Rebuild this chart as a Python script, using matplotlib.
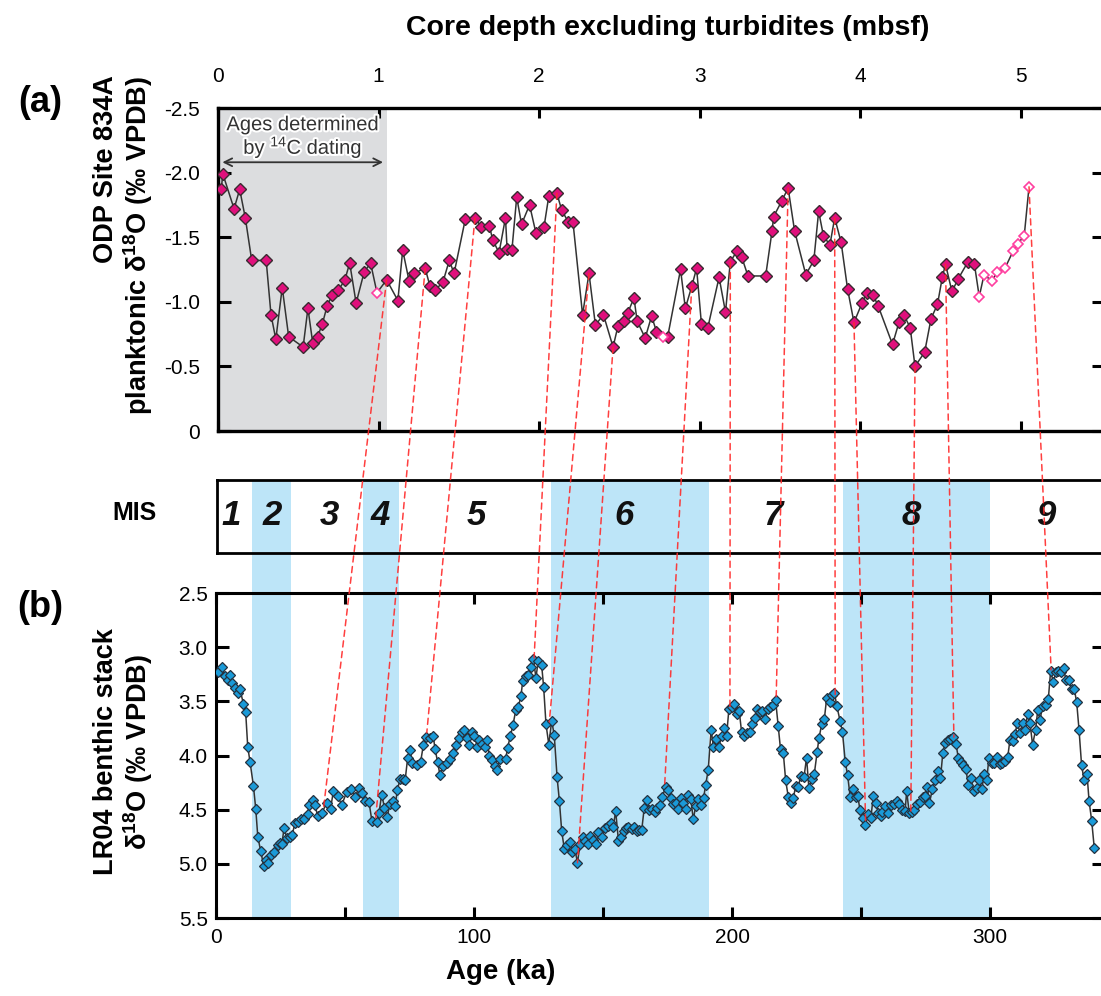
import matplotlib
matplotlib.use("Agg")
import matplotlib.pyplot as plt
from matplotlib.patches import Rectangle, ConnectionPatch
from matplotlib.transforms import blended_transform_factory
import matplotlib.patheffects as pe
import numpy as np

plt.rcParams['font.family'] = ['Liberation Sans', 'DejaVu Sans']
plt.rcParams['mathtext.fontset'] = 'custom'
plt.rcParams['mathtext.rm'] = 'Liberation Sans'
plt.rcParams['mathtext.bf'] = 'Liberation Sans:bold'
plt.rcParams['mathtext.it'] = 'Liberation Sans:italic'

NARROW = ['Liberation Sans Narrow', 'Liberation Sans', 'DejaVu Sans']

# ---------------- data: ODP 834A planktonic d18O vs depth ----------------
odp_depth = [0.02, 0.03, 0.10, 0.135, 0.17, 0.21, 0.30, 0.33, 0.36, 0.40, 0.44, 0.53, 0.56, 0.59,
             0.62, 0.65, 0.68, 0.71, 0.75, 0.79, 0.82, 0.86, 0.91, 0.95, 0.99, 1.05, 1.12, 1.15,
             1.19, 1.22, 1.29, 1.32, 1.35, 1.40, 1.44, 1.47, 1.54, 1.60, 1.64, 1.69, 1.71, 1.75,
             1.79, 1.80, 1.83, 1.86, 1.89, 1.94, 1.98, 2.03, 2.06, 2.11, 2.14, 2.18, 2.21, 2.27,
             2.31, 2.35, 2.40, 2.46, 2.49, 2.53, 2.55, 2.59, 2.61, 2.66, 2.70, 2.73, 2.77, 2.80,
             2.88, 2.91, 2.95, 2.98, 3.01, 3.05, 3.12, 3.16, 3.19, 3.23, 3.26, 3.30, 3.41, 3.45,
             3.46, 3.51, 3.55, 3.59, 3.66, 3.71, 3.74, 3.77, 3.81, 3.84, 3.88, 3.92, 3.96, 4.01,
             4.04, 4.08, 4.11, 4.20, 4.24, 4.27, 4.31, 4.34, 4.40, 4.44, 4.48, 4.51, 4.53, 4.57,
             4.61, 4.67, 4.71, 4.74, 4.77, 4.82, 4.85, 4.90, 4.95, 4.98, 5.02, 5.05]
odp_d18o = [-1.87, -1.99, -1.72, -1.87, -1.65, -1.32, -1.32, -0.90, -0.71, -1.11, -0.73, -0.65, -0.95, -0.68,
            -0.73, -0.83, -0.97, -1.05, -1.09, -1.17, -1.30, -0.99, -1.23, -1.30, -1.07, -1.17, -1.01, -1.40,
            -1.16, -1.22, -1.26, -1.12, -1.09, -1.15, -1.32, -1.22, -1.64, -1.65, -1.58, -1.59, -1.48, -1.38,
            -1.65, -1.41, -1.40, -1.81, -1.60, -1.75, -1.53, -1.58, -1.82, -1.84, -1.71, -1.62, -1.62, -0.90,
            -1.22, -0.82, -0.90, -0.65, -0.81, -0.85, -0.91, -1.03, -0.85, -0.72, -0.89, -0.77, -0.73, -0.73,
            -1.25, -0.95, -1.12, -1.26, -0.83, -0.80, -1.19, -0.92, -1.31, -1.39, -1.35, -1.20, -1.20, -1.55,
            -1.66, -1.78, -1.88, -1.55, -1.21, -1.32, -1.70, -1.51, -1.44, -1.65, -1.46, -1.10, -0.84, -0.99,
            -1.07, -1.05, -0.97, -0.67, -0.84, -0.90, -0.80, -0.50, -0.61, -0.87, -0.98, -1.19, -1.29, -1.08,
            -1.18, -1.31, -1.29, -1.04, -1.21, -1.16, -1.23, -1.26, -1.39, -1.45, -1.51, -1.89]
# samples drawn as open symbols (depths)
odp_open_depth = [0.99, 2.77, 4.74, 4.77, 4.82, 4.85, 4.90, 4.95, 4.98, 5.02, 5.05]

# ---------------- data: LR04 benthic stack ----------------
lr04_age = [0.6, 2.5, 3.5, 4.5, 5.4, 6.3, 7.4, 8.4, 9.3, 10.6, 11.5, 12.3, 13.2, 14.5, 15.4, 16.2, 17.3, 18.5,
            19.4, 20.3, 21.3, 22.6, 23.9, 24.8, 25.5, 26.4, 27.4, 28.7, 29.6, 30.6, 31.7, 33.0, 34.3, 35.5,
            36.2, 37.7, 38.4, 39.4, 41.0, 42.9, 44.4, 45.5, 47.2, 48.7, 50.6, 52.3, 53.9, 55.4, 56.5, 57.8,
            59.3, 60.4, 62.3, 63.2, 64.2, 65.3, 66.4, 67.3, 68.5, 69.4, 70.3, 71.3, 72.6, 73.3, 74.3, 75.2,
            76.1, 77.8, 79.3, 80.4, 81.4, 83.0, 84.2, 84.9, 85.9, 86.8, 88.1, 89.4, 90.7, 92.0, 93.0, 94.2,
            95.2, 96.2, 97.2, 98.2, 99.1, 100.1, 101.3, 102.0, 103.2, 104.2, 105.2, 105.9, 107.1, 108.1,
            109.0, 110.1, 112.3, 113.0, 114.1, 115.1, 116.2, 117.2, 118.2, 118.9, 120.0, 121.0, 122.1,
            123.0, 124.0, 124.9, 126.2, 127.0, 127.9, 129.0, 130.1, 131.1, 132.2, 133.1, 134.0, 135.0,
            136.2, 137.2, 138.1, 139.1, 140.1, 141.1, 142.1, 143.0, 144.0, 144.9, 146.0, 147.1, 148.2,
            149.5, 150.7, 152.1, 153.1, 154.0, 154.9, 156.0, 156.9, 158.0, 158.8, 159.8, 161.1, 162.2,
            163.0, 164.0, 165.0, 166.0, 166.9, 168.0, 169.1, 170.1, 171.1, 172.1, 173.0, 174.3, 175.3,
            176.2, 177.3, 178.2, 179.2, 180.1, 181.1, 182.0, 183.1, 184.0, 185.0, 185.9, 187.0, 188.0,
            189.0, 189.8, 190.8, 191.9, 192.8, 193.8, 194.9, 196.0, 197.0, 197.9, 198.8, 199.9, 200.9,
            201.8, 202.8, 203.7, 204.8, 205.9, 207.0, 207.9, 208.9, 209.8, 210.9, 211.8, 212.8, 213.8,
            214.7, 216.0, 216.9, 217.9, 218.8, 219.9, 220.8, 221.8, 222.9, 223.8, 224.7, 225.7, 226.6,
            227.9, 228.9, 229.8, 230.9, 231.9, 233.0, 233.7, 234.8, 235.8, 236.7, 237.8, 238.6, 239.7,
            240.6, 241.9, 242.8, 243.9, 244.8, 245.8, 246.9, 247.9, 248.7, 249.6, 250.6, 251.7, 252.6,
            253.8, 254.8, 255.8, 256.7, 257.6, 258.3, 259.3, 260.6, 261.6, 262.8, 263.8, 264.7, 265.8,
            267.1, 267.7, 268.7, 269.6, 270.7, 271.7, 272.9, 273.9, 274.8, 275.7, 276.5, 277.7, 278.7,
            279.7, 280.8, 281.7, 282.6, 283.6, 284.6, 285.8, 286.8, 287.7, 288.7, 289.7, 290.6, 291.6,
            292.6, 293.7, 294.8, 295.7, 296.8, 297.8, 298.7, 299.6, 300.7, 301.7, 302.7, 303.7, 304.8,
            305.8, 306.9, 307.7, 308.8, 309.7, 310.6, 311.6, 312.6, 313.5, 314.6, 315.5, 316.5, 317.7,
            318.5, 319.4, 320.4, 321.6, 322.6, 323.5, 324.5, 325.6, 326.5, 327.5, 328.5, 329.4, 330.6,
            331.6, 332.7, 333.6, 334.5, 335.5, 336.5, 337.6, 338.4, 339.4, 340.4]
lr04_d18o = [3.23, 3.18, 3.27, 3.30, 3.26, 3.33, 3.38, 3.42, 3.39, 3.52, 3.60, 3.92, 4.06, 4.28, 4.49, 4.75, 4.88, 5.02,
             4.96, 4.99, 4.92, 4.89, 4.83, 4.81, 4.82, 4.67, 4.76, 4.75, 4.73, 4.62, 4.61, 4.59, 4.59, 4.54,
             4.46, 4.41, 4.46, 4.56, 4.53, 4.44, 4.49, 4.33, 4.37, 4.46, 4.34, 4.31, 4.38, 4.30, 4.35, 4.42,
             4.43, 4.60, 4.61, 4.53, 4.36, 4.48, 4.57, 4.45, 4.42, 4.47, 4.32, 4.22, 4.22, 4.23, 4.02, 3.95,
             4.07, 4.09, 4.06, 3.90, 3.83, 3.84, 3.82, 3.94, 4.06, 4.18, 4.10, 4.07, 4.03, 3.98, 3.90, 3.84,
             3.78, 3.76, 3.84, 3.90, 3.78, 3.82, 3.92, 3.86, 3.89, 3.92, 3.86, 4.00, 4.04, 4.10,
             4.13, 4.03, 4.03, 3.93, 3.82, 3.72, 3.58, 3.55, 3.45, 3.31, 3.27, 3.26, 3.18,
             3.11, 3.28, 3.13, 3.16, 3.37, 3.71, 3.90, 3.68, 3.81, 4.20, 4.42, 4.70, 4.86,
             4.83, 4.80, 4.89, 4.86, 4.99, 4.82, 4.75, 4.79, 4.82, 4.74, 4.78, 4.82, 4.71,
             4.75, 4.67, 4.65, 4.62, 4.66, 4.51, 4.79, 4.75, 4.70, 4.67, 4.66, 4.68, 4.66,
             4.70, 4.69, 4.69, 4.48, 4.41, 4.50, 4.49, 4.52, 4.48, 4.46, 4.38, 4.29, 4.32,
             4.39, 4.45, 4.44, 4.49, 4.39, 4.44, 4.49, 4.36, 4.40, 4.59, 4.47, 4.40, 4.46,
             4.39, 4.27, 4.13, 3.76, 3.92, 3.85, 3.92, 3.82, 3.75, 3.82, 3.57, 3.55, 3.52,
             3.62, 3.59, 3.78, 3.82, 3.79, 3.78, 3.71, 3.65, 3.57, 3.60, 3.59, 3.66, 3.57,
             3.55, 3.53, 3.49, 3.73, 3.94, 3.98, 4.23, 4.38, 4.44, 4.39, 4.28, 4.29, 4.19,
             4.20, 4.02, 4.30, 4.22, 4.17, 3.97, 3.84, 3.71, 3.66, 3.47, 3.51, 3.44, 3.42,
             3.54, 3.68, 3.78, 4.06, 4.18, 4.38, 4.31, 4.38, 4.37, 4.50, 4.58, 4.64, 4.54,
             4.58, 4.37, 4.44, 4.53, 4.56, 4.52, 4.47, 4.53, 4.46, 4.45, 4.42, 4.45, 4.50,
             4.51, 4.33, 4.53, 4.52, 4.50, 4.45, 4.43, 4.38, 4.37, 4.29, 4.44, 4.31, 4.23,
             4.14, 4.21, 3.98, 3.88, 3.86, 3.85, 3.83, 3.89, 4.02, 4.06, 4.09, 4.12, 4.27,
             4.21, 4.33, 4.30, 4.23, 4.31, 4.17, 4.23, 4.02, 4.07, 4.07, 4.01, 4.08, 4.07,
             4.05, 4.01, 3.86, 3.87, 3.80, 3.70, 3.79, 3.70, 3.76, 3.62, 3.70, 3.90, 3.76,
             3.58, 3.67, 3.54, 3.53, 3.48, 3.22, 3.32, 3.23, 3.22, 3.23, 3.19, 3.30, 3.30,
             3.39, 3.39, 3.51, 3.76, 4.09, 4.23, 4.17, 4.42, 4.60, 4.85]

# ---------------- tie points (depth, d18O) -> (age, d18O) ----------------
tie_depth = [1.05, 1.29, 1.60, 2.11, 2.31, 2.46, 2.95, 3.19, 3.55, 3.84, 3.96, 4.34, 4.53, 5.05]
tie_top_val = [-1.17, -1.26, -1.65, -1.84, -1.22, -0.65, -1.12, -1.31, -1.88, -1.65, -0.84, -0.50, -1.29, -1.89]
tie_age = [41.6, 61.9, 81.7, 123.3, 129.2, 140.1, 173.9, 199.2, 217.1, 240.0, 251.8, 269.3, 286.0, 323.7]
tie_bot_val = [4.50, 4.58, 3.79, 3.10, 3.69, 4.99, 4.27, 3.56, 3.49, 3.44, 4.64, 4.52, 3.83, 3.21]

# ---------------- MIS stages ----------------
mis_glacial_start = [14, 57, 130, 243]
mis_glacial_end = [29, 71, 191, 300]
mis_labels = ['1', '2', '3', '4', '5', '6', '7', '8', '9']
mis_label_age = [5.5, 21.5, 43.5, 63.5, 100.5, 158, 216, 269.5, 321.5]

radio_end_depth = 1.055

# ---------------- figure ----------------
W, H = 1101, 996
fig = plt.figure(figsize=(W / 100, H / 100), dpi=100)

def frac(l, t, r, b):
    return [l / W, 1 - b / H, (r - l) / W, (b - t) / H]

ax1 = fig.add_axes(frac(218, 108, 1104, 431))
axm = fig.add_axes(frac(217, 480, 1104, 553))
ax2 = fig.add_axes(frac(216, 593, 1104, 918))
for a in (axm, ax2):
    a.set_facecolor('none')

ax1.set_xlim(0, (1104 - 218) / 160.6)
ax1.set_ylim(0, -2.5)
ax2.set_xlim(0, (1104 - 216) / 2.58)
ax2.set_ylim(5.5, 2.5)
axm.set_xlim(ax2.get_xlim())
axm.set_ylim(0, 1)

BLUE_BAND = '#bde5f8'
# glacial bands spanning MIS box and bottom panel
tr = blended_transform_factory(ax2.transData, fig.transFigure)
y0 = 1 - 918 / H
y1 = 1 - 480 / H
for s, e in zip(mis_glacial_start, mis_glacial_end):
    fig.add_artist(Rectangle((s, y0), e - s, y1 - y0, transform=tr, facecolor=BLUE_BAND,
                             edgecolor='none', zorder=-1))

# ---- top panel ----
ax1.axvspan(0, radio_end_depth, color='#dcdddf', zorder=0, lw=0)
ax1.plot(odp_depth, odp_d18o, color='#333333', lw=1.1, zorder=2)
filled = [i for i, d in enumerate(odp_depth) if d not in odp_open_depth]
opn = [i for i, d in enumerate(odp_depth) if d in odp_open_depth]
ax1.plot([odp_depth[i] for i in filled], [odp_d18o[i] for i in filled], ls='none', marker='D',
         ms=6.0, mfc='#e0107c', mec='#3a2a30', mew=1.0, zorder=3)
ax1.plot([odp_depth[i] for i in opn], [odp_d18o[i] for i in opn], ls='none', marker='D',
         ms=5.6, mfc='white', mec='#ff3fa0', mew=1.2, zorder=3)

ax1.annotate('', xy=(0.01, -2.08), xytext=(radio_end_depth - 0.01, -2.08),
             arrowprops=dict(arrowstyle='<->', color='#333333', lw=1.3, mutation_scale=14), zorder=4)
ax1.text(radio_end_depth / 2, -2.27, 'Ages determined\nby $^{14}$C dating', ha='center', va='center',
         fontsize=14.5, color='#333333', linespacing=1.0, zorder=4,
         path_effects=[pe.withStroke(linewidth=3, foreground='white')])

ax1.set_xticks([0, 1, 2, 3, 4, 5])
ax1.set_yticks([0, -0.5, -1.0, -1.5, -2.0, -2.5])
ax1.set_yticklabels(['0', '-0.5', '-1.0', '-1.5', '-2.0', '-2.5'])
ax1.tick_params(axis='x', which='both', direction='in', top=True, bottom=True, labeltop=True,
                labelbottom=False, length=7.5, width=2.2, pad=16, labelsize=15)
ax1.tick_params(axis='y', direction='in', left=True, right=True, length=9, width=2.2, pad=13,
                labelsize=15)
for sp in ax1.spines.values():
    sp.set_linewidth(2.4)

# ---- MIS box ----
axm.set_xticks([])
axm.set_yticks([])
for sp in axm.spines.values():
    sp.set_linewidth(2.0)
for lab, ag in zip(mis_labels, mis_label_age):
    axm.text(ag, 0.52, lab, ha='center', va='center', fontsize=25, fontweight='bold',
             style='italic', family=NARROW, color='#111111')

# ---- bottom panel ----
ax2.plot(lr04_age, lr04_d18o, color='#333333', lw=1.1, zorder=2)
ax2.plot(lr04_age, lr04_d18o, ls='none', marker='D', ms=5.0, mfc='#1a9ad8', mec='#243240',
         mew=0.9, zorder=3)
ax2.set_xticks([0, 50, 100, 150, 200, 250, 300])
ax2.set_xticklabels(['0', '', '100', '', '200', '', '300'])
ax2.set_yticks([2.5, 3.0, 3.5, 4.0, 4.5, 5.0, 5.5])
ax2.set_yticklabels(['2.5', '3.0', '3.5', '4.0', '4.5', '5.0', '5.5'])
ax2.tick_params(axis='x', direction='in', top=True, bottom=True, length=8, width=2.2, pad=7,
                labelsize=15)
ax2.tick_params(axis='y', direction='in', left=True, right=True, length=9, width=2.2, pad=6,
                labelsize=15)
for sp in ax2.spines.values():
    sp.set_linewidth(2.2)

for a in (ax1, ax2):
    for lbl in a.get_xticklabels() + a.get_yticklabels():
        lbl.set_family(NARROW)

# ---- tie lines ----
for d, v1, ag, v2 in zip(tie_depth, tie_top_val, tie_age, tie_bot_val):
    cp = ConnectionPatch(xyA=(d, v1), coordsA=ax1.transData, xyB=(ag, v2), coordsB=ax2.transData,
                         color='#ff2a2a', lw=1.1, linestyle=(0, (4, 3)), alpha=0.9, zorder=10)
    fig.add_artist(cp)

# ---- labels ----
fig.text(668 / W, 1 - 28 / H, 'Core depth excluding turbidites (mbsf)', ha='center', va='center',
         fontsize=20.5, fontweight='bold')
fig.text(501 / W, 1 - 972 / H, 'Age (ka)', ha='center', va='center', fontsize=20, fontweight='bold')
fig.text(124 / W, 1 - 245 / H, 'ODP Site 834A\nplanktonic $\\mathbf{\\delta^{18}}$O (‰ VPDB)',
         rotation=90, ha='center', va='center', fontsize=19.5, fontweight='bold', linespacing=1.1,
         multialignment='right')
fig.text(124 / W, 1 - 752 / H, 'LR04 benthic stack\n$\\mathbf{\\delta^{18}}$O (‰ VPDB)',
         rotation=90, ha='center', va='center', fontsize=19.5, fontweight='bold', linespacing=1.1,
         multialignment='center')
fig.text(40 / W, 1 - 103 / H, '(a)', ha='center', va='center', fontsize=26, fontweight='bold')
fig.text(40 / W, 1 - 607 / H, '(b)', ha='center', va='center', fontsize=26, fontweight='bold')
fig.text(135 / W, 1 - 513 / H, 'MIS', ha='center', va='center', fontsize=18, fontweight='bold')

fig.savefig('out.png', dpi=100)
